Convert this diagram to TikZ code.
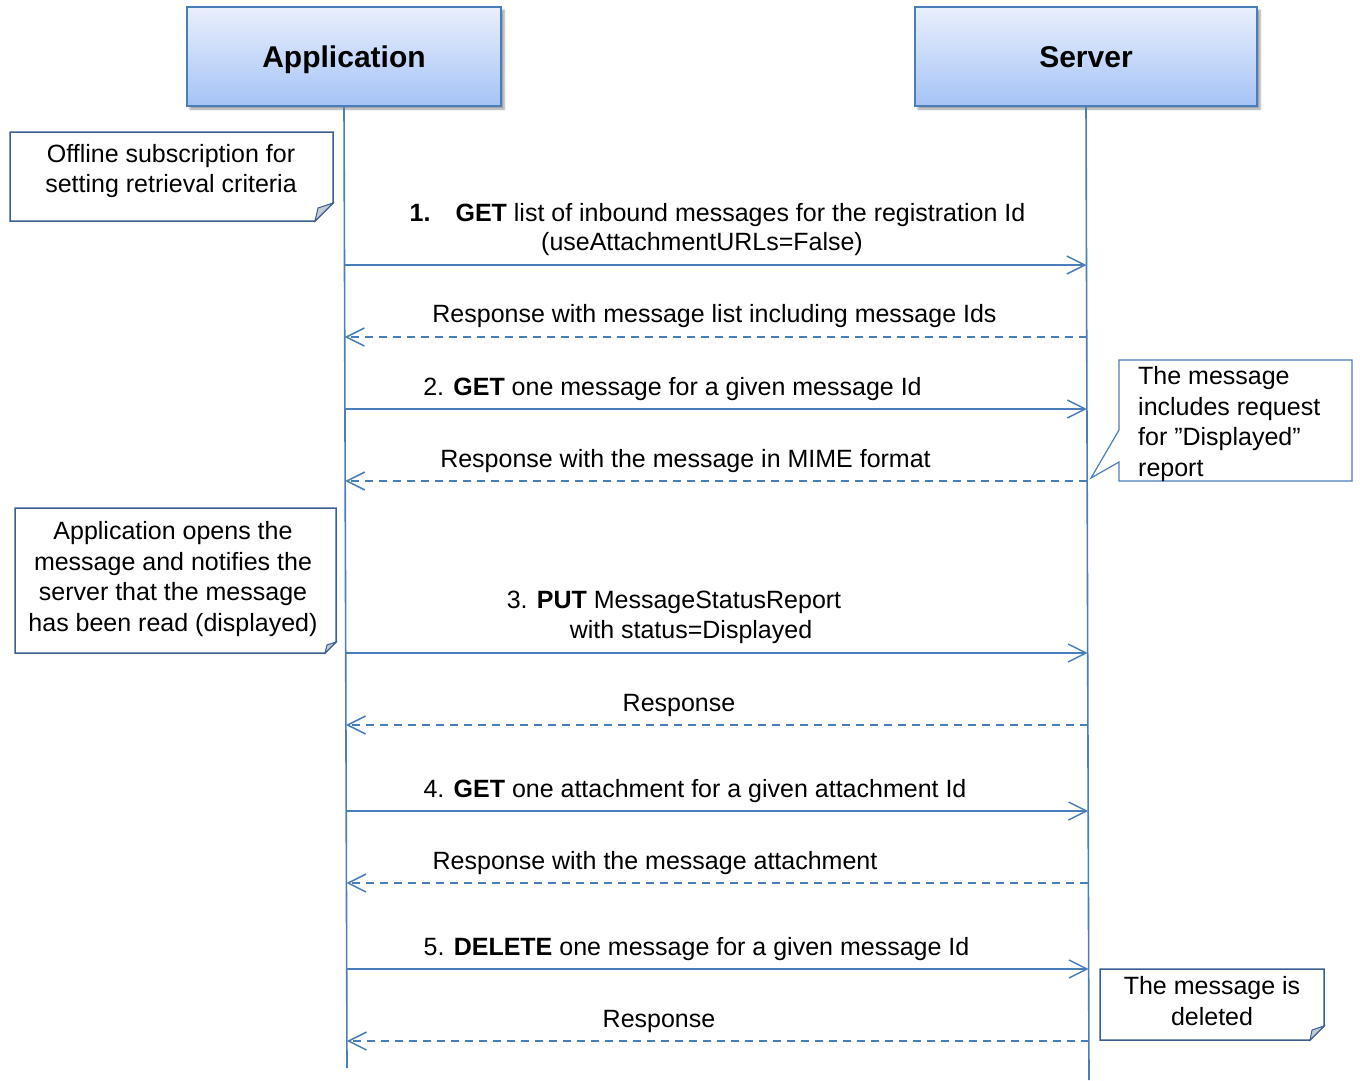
\documentclass[tikz,border=0pt]{standalone}
\usepackage{fontspec}
\setmainfont{Liberation Sans}
\usetikzlibrary{arrows.meta,shadows.blur}
\definecolor{lineblue}{RGB}{74,126,187}
\definecolor{noteblue}{RGB}{60,95,145}
\definecolor{headtop}{RGB}{233,239,252}
\definecolor{headbot}{RGB}{165,195,246}
\definecolor{flapgrey}{RGB}{196,202,212}
\begin{document}
\begin{tikzpicture}[x=1pt,y=-1pt,
  header/.style={draw=lineblue, line width=1.5pt, top color=headtop, bottom color=headbot,
    font=\fontsize{30}{36}\selectfont\bfseries, inner sep=0pt, text height=21.5pt, text depth=0pt,
    blur shadow={shadow xshift=3pt, shadow yshift=-3pt, shadow blur radius=2pt, shadow opacity=40}},
  lifeline/.style={draw=lineblue, line width=1.6pt},
  msg/.style={draw=lineblue, line width=1.5pt, -{Straight Barb[length=18pt,width=18pt]}},
  reply/.style={msg, dash pattern=on 8pt off 6pt},
  lbl/.style={anchor=base, inner sep=0pt, font=\fontsize{25}{30}\selectfont},
  notetext/.style={inner sep=0pt, align=center, font=\fontsize{25}{30.5}\selectfont},
  notebox/.style={draw=noteblue, line width=1.5pt, fill=white},
  flap/.style={draw=noteblue, line width=1pt, fill=flapgrey}
]
\useasboundingbox (0,0) rectangle (1360,1080);

% participants
\node[header, minimum width=314pt, minimum height=99pt] (app) at (344,56.5) {Application};
\node[header, minimum width=342pt, minimum height=99pt] (srv) at (1086,56.5) {Server};

% lifelines
\coordinate (appEnd) at (347,1068);
\coordinate (srvEnd) at (1089,1080);
\draw[lifeline] (app.south) -- (appEnd);
\draw[lifeline] (srv.south) -- (srvEnd);

% message anchor points on both lifelines
\foreach \n/\y in {1/265,2/337,3/409,4/481,5/653,6/725,7/811,8/883,9/969,10/1041} {
  \coordinate (a\n) at ({344+(\y-106)*3/962},\y);
  \coordinate (s\n) at ({1086+(\y-106)*3/974},\y);
}

% messages
\draw[msg] (a1) -- (s1);
\node[lbl] (m1a) at (717.5,221) {\textbf{1.}\hspace{25pt}\textbf{GET} list of inbound messages for the registration Id};
\node[lbl] (m1b) at (702,250) {(useAttachmentURLs=False)};

\draw[reply] (s2) -- (a2);
\node[lbl] (m2) at (714.5,322) {Response with message list including message Ids};

\draw[msg] (a3) -- (s3);
\node[lbl] (m3) at (672.5,395) {2. \textbf{GET} one message for a given message Id};

\draw[reply] (s4) -- (a4);
\node[lbl] (m4) at (685.5,467) {Response with the message in MIME format};

\draw[msg] (a5) -- (s5);
\node[lbl] (m5a) at (674,608) {3. \textbf{PUT} MessageStatusReport};
\node[lbl] (m5b) at (691,638) {with status=Displayed};

\draw[reply] (s6) -- (a6);
\node[lbl] (m6) at (679,711) {Response};

\draw[msg] (a7) -- (s7);
\node[lbl] (m7) at (695,797) {4. \textbf{GET} one attachment for a given attachment Id};

\draw[reply] (s8) -- (a8);
\node[lbl] (m8) at (655,869) {Response with the message attachment};

\draw[msg] (a9) -- (s9);
\node[lbl] (m9) at (696.5,955) {5. \textbf{DELETE} one message for a given message Id};

\draw[reply] (s10) -- (a10);
\node[lbl] (m10) at (659,1027) {Response};

% notes with folded corner
\draw[notebox] (10,132) -- (333,132) -- (333,203) -- (315,221) -- (10,221) -- cycle;
\draw[flap] (333,203) -- (318,208) -- (315,221) -- cycle;
\node[notetext] (n1) at (171,171) {Offline subscription for\\setting retrieval criteria};

\draw[notebox] (15,508) -- (336,508) -- (336,642) -- (325,653) -- (15,653) -- cycle;
\draw[flap] (336,642) -- (327,645) -- (325,653) -- cycle;
\node[notetext] (n2) at (173,579) {Application opens the\\message and notifies the\\server that the message\\has been read (displayed)};

\draw[notebox] (1100,969) -- (1324,969) -- (1324,1026) -- (1310,1040) -- (1100,1040) -- cycle;
\draw[flap] (1324,1026) -- (1312,1030) -- (1310,1040) -- cycle;
\node[notetext] (n4) at (1212,1001) {The message is\\deleted};

% callout attached to the server lifeline
\coordinate (calloutTip) at (1091,478);
\draw[draw=lineblue, line width=1.2pt, fill=white] (1119,360) -- (1352,360) -- (1352,481) -- (1119,481) -- (1119,462) -- (calloutTip) -- (1119,430) -- cycle;
\node[notetext, align=left, anchor=west] (n3) at (1138,424) {The message\\includes request\\for ”Displayed”\\report};

\end{tikzpicture}
\end{document}
